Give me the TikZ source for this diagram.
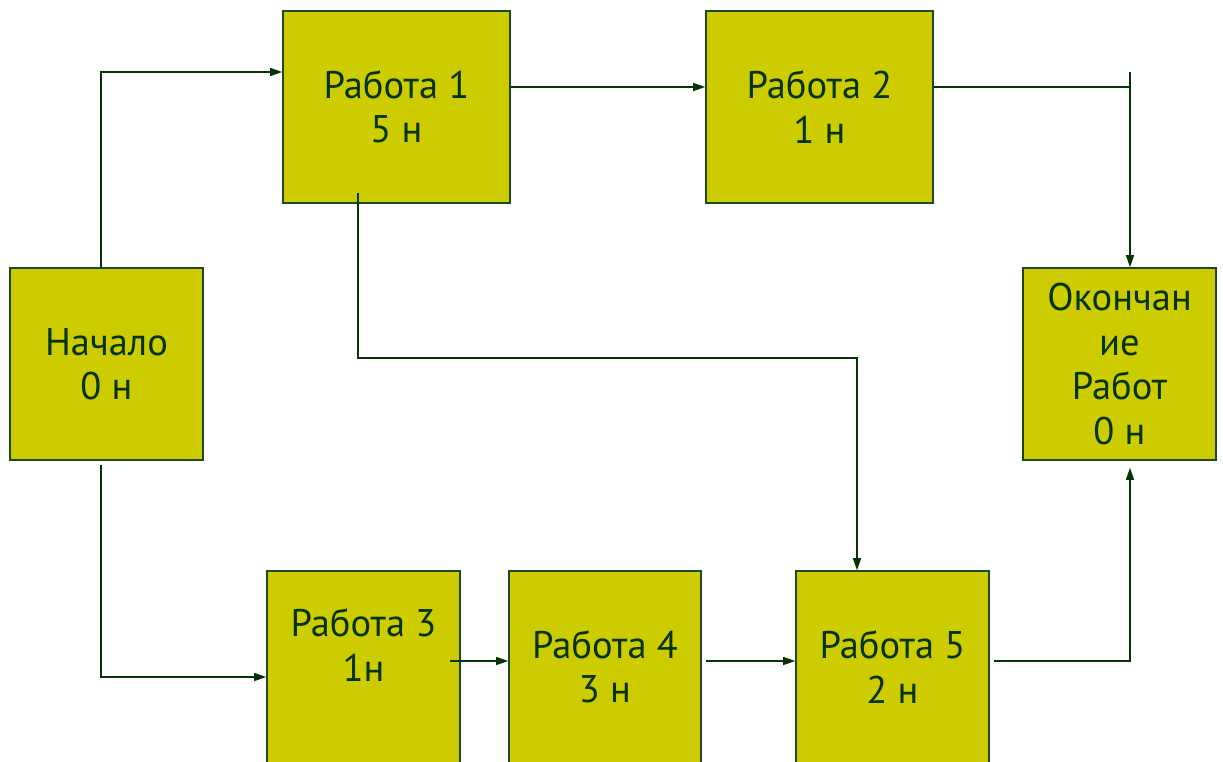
\documentclass[tikz,border=0pt]{standalone}
\usepackage{fontspec}
\setmainfont{PT Sans}
\usetikzlibrary{arrows.meta}
\definecolor{boxfill}{HTML}{CCCC00}
\definecolor{ink}{HTML}{063306}
\definecolor{edge}{HTML}{1C4A1C}
\begin{document}
\begin{tikzpicture}[x=1pt,y=-1pt,
  task/.style={draw=edge, line width=1.6pt, fill=boxfill, text=ink,
    minimum width=#1, minimum height=192pt, inner sep=0pt, align=center,
    font=\fontsize{38.5}{44.5}\selectfont},
  task/.default=193pt,
  label text/.style={text=ink, align=center, inner sep=0pt,
    font=\fontsize{38.5}{44.5}\selectfont},
  flow/.style={draw=ink, line width=1.3pt,
    -{Triangle[length=12pt,width=8pt]}},
  plain/.style={draw=ink, line width=1.3pt}]
\useasboundingbox (0,0) rectangle (1223,761);

% work packages
\node[task=227pt] (r1) at (396.5,107) {Работа 1\\5 н};
\node[task=227pt] (r2) at (819.5,107) {Работа 2\\1 н};
\node[task] (start) at (106.5,364) {Начало\\0 н};
\node[task] (fin) at (1119.5,364) {Окончан\\ие\\Работ\\0 н};
\node[task] (r3) at (363.5,667) {};
\node[label text] (r3t) at (363.5,645) {Работа 3\\1н};
\node[task=192pt] (r4) at (605,667) {Работа 4\\3 н};
\node[task] (r5) at (892.5,667) {Работа 5\\2 н};

% junction points
\coordinate (jtop) at (1130,72);
\coordinate (jmid) at (1130,87);
\coordinate (r1drop) at (358,193);
\coordinate (r3out) at (450,661);
\coordinate (r4out) at (706,661);
\coordinate (r5out) at (994,661);
\coordinate (stdown) at (101,465);

% connectors
\draw[flow] ([xshift=-5.5pt]start.north) |- ([yshift=35pt]r1.west);
\draw[flow] ([yshift=20pt]r1.east) -- ([yshift=20pt]r2.west);
\draw[plain] ([yshift=20pt]r2.east) -- (jmid);
\draw[flow] (jtop) -- ([xshift=10.5pt]fin.north);
\draw[flow] (r1drop) |- (857,358) -- ([xshift=-35.5pt]r5.north);
\draw[flow] (stdown) |- ([yshift=-10pt]r3.west);
\draw[flow] (r3out) -- ([yshift=6pt]r4.west);
\draw[flow] (r4out) -- ([yshift=6pt]r5.west);
\draw[flow] (r5out) -| ([xshift=10.5pt,yshift=-7pt]fin.south);
\end{tikzpicture}
\end{document}
